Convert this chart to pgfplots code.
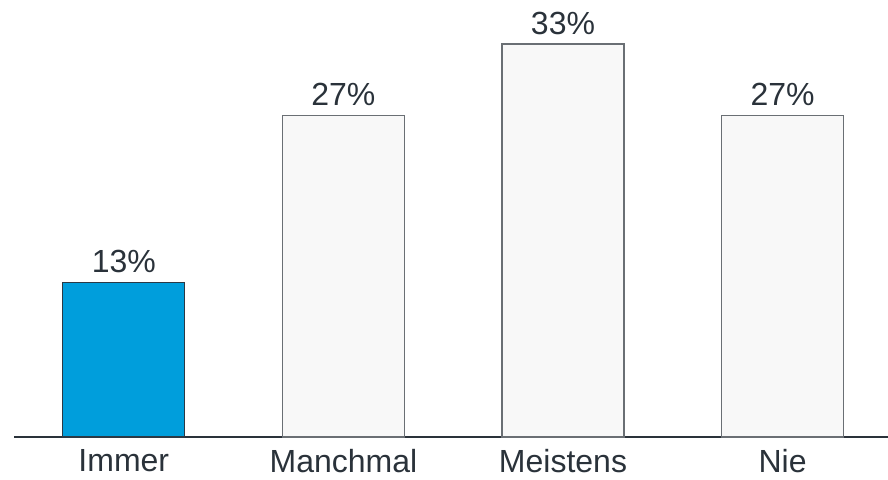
\documentclass[border=0pt]{standalone}
\usepackage{pgfplots}
\pgfplotsset{compat=1.18}
\usepackage{fontspec}
\setmainfont{Liberation Sans}
\definecolor{barblue}{HTML}{009EDC}
\definecolor{barlight}{HTML}{F8F8F8}
\definecolor{baredge}{HTML}{6A6F74}
\definecolor{darkedge}{HTML}{2B3945}
\definecolor{inktext}{HTML}{2A323A}
\begin{document}
\begin{tikzpicture}
\begin{axis}[
  at={(0,0)}, anchor=south west,
  scale only axis,
  width=874bp, height=437bp,
  xmin=-0.5, xmax=3.48,
  ymin=0, ymax=36.7,
  axis x line*=bottom,
  axis y line=none,
  axis line style={draw=inktext, line width=1.6bp},
  xtick={0,1,2,3},
  xticklabels={Immer,Manchmal,Meistens,Nie},
  major tick length=0pt,
  xticklabel style={font=\fontsize{32bp}{36bp}\selectfont, text=inktext, yshift=-9bp},
  ybar, bar width=122bp, bar shift=0pt,
  clip=false,
  /pgf/number format/assume math mode=true,
  nodes near coords={\pgfmathprintnumber{\pgfplotspointmeta}\%},
  every node near coord/.append style={font=\fontsize{32bp}{36bp}\selectfont, text=inktext, anchor=south, inner sep=0pt, yshift=9bp},
]
\addplot[fill=barblue, draw=darkedge, line width=1.2bp] coordinates {(0,13)};
\addplot[fill=barlight, draw=baredge, line width=1.2bp] coordinates {(1,27) (2,33) (3,27)};
\end{axis}
\pgfresetboundingbox
\path (-14bp,-43bp) rectangle (874bp,437bp);
\end{tikzpicture}
\end{document}
